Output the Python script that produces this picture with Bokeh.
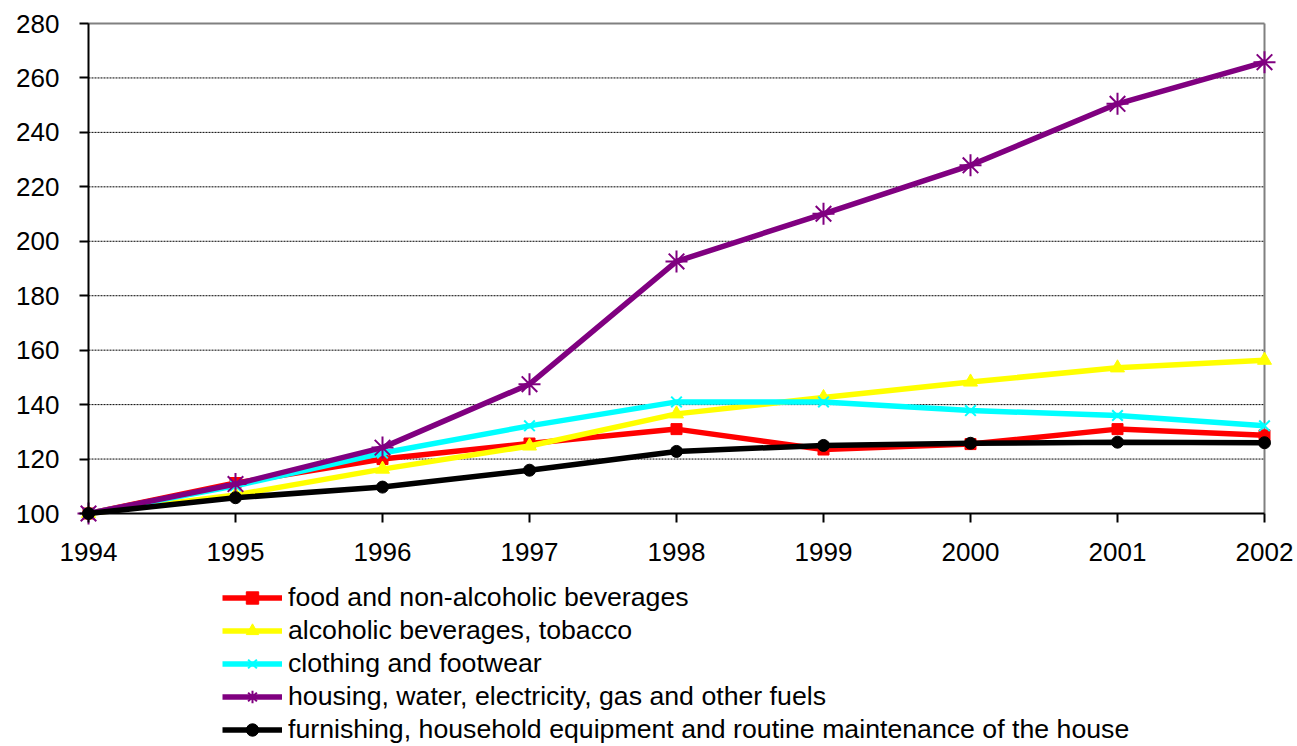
from bokeh.plotting import figure
from bokeh.models import Range1d, FixedTicker, Legend, LegendItem
from bokeh.embed import file_html
from bokeh.resources import INLINE

years = [1994, 1995, 1996, 1997, 1998, 1999, 2000, 2001, 2002]
food = [100, 111.2, 120.0, 125.7, 131.0, 123.5, 125.5, 131.0, 128.7]
alcohol = [100, 106.8, 116.3, 124.8, 136.6, 142.6, 148.3, 153.5, 156.3]
clothing = [100, 110.2, 122.2, 132.2, 141.0, 141.0, 137.8, 136.0, 132.2]
housing = [100, 110.8, 124.2, 147.5, 192.6, 210.1, 227.9, 250.5, 265.8]
furnishing = [100, 105.8, 109.7, 115.9, 122.8, 125.0, 125.8, 126.2, 126.0]
y_ticks = [100, 120, 140, 160, 180, 200, 220, 240, 260, 280]

series = [
    ("food and non-alcoholic beverages", food, "#FF0000", "square", 11),
    ("alcoholic beverages, tobacco", alcohol, "#FFFF00", "triangle", 14),
    ("clothing and footwear", clothing, "#00FFFF", "x", 15),
    ("housing, water, electricity, gas and other fuels", housing, "#800080", "asterisk", 22),
    ("furnishing, household equipment and routine maintenance of the house", furnishing, "#000000", "circle", 12),
]

FONT = "Liberation Sans"

# Canvas layout (pixels): plot area spans x 88..1264, y 23..513.
W, H = 1296, 746
LEFT, RIGHT, TOP, BOTTOM = 88, 1264, 23, 513
x_lo, x_hi = years[0], years[-1]
y_lo, y_hi = y_ticks[0], y_ticks[-1]
px_x = (RIGHT - LEFT) / (x_hi - x_lo)
px_y = (BOTTOM - TOP) / (y_hi - y_lo)
x_start = x_lo - LEFT / px_x
x_end = x_hi + (W - RIGHT) / px_x
y_end = y_hi + TOP / px_y
y_start = y_lo - (H - BOTTOM) / px_y

p = figure(frame_width=W, frame_height=H, output_backend="svg", toolbar_location=None,
           x_range=Range1d(x_start, x_end), y_range=Range1d(y_start, y_end),
           min_border=0)
p.outline_line_color = None
p.xgrid.grid_line_color = None
p.ygrid.grid_line_color = None

# dashed horizontal gridlines limited to the plot area
p.multi_line(xs=[[x_lo, x_hi] for _ in y_ticks], ys=[[t, t] for t in y_ticks],
             line_color="#000000", line_dash="2 1", line_width=1)

for ax in (p.xaxis[0], p.yaxis[0]):
    ax.axis_line_color = "#000000"
    ax.axis_line_width = 2
    ax.major_tick_line_color = "#000000"
    ax.major_tick_line_width = 2
    ax.major_tick_in = 0
    ax.major_tick_out = 9
    ax.minor_tick_line_color = None
    ax.major_label_text_font = FONT
    ax.major_label_text_font_size = "26px"
    ax.major_label_text_color = "#000000"

p.xaxis.ticker = FixedTicker(ticks=years)
p.yaxis.ticker = FixedTicker(ticks=y_ticks)
p.xaxis.fixed_location = y_lo
p.yaxis.fixed_location = x_lo
p.xaxis.bounds = (x_lo, x_hi)
p.yaxis.bounds = (y_lo, y_hi)
p.xaxis.major_label_standoff = 20
p.yaxis.major_label_standoff = 20

# gray plot-area border (top and right)
p.line([x_lo, x_hi], [y_hi, y_hi], line_color="#808080", line_width=2)
p.line([x_hi, x_hi], [y_lo, y_hi], line_color="#808080", line_width=2)

items = []
for name, vals, color, marker, size in series:
    r1 = p.line(years, vals, line_color=color, line_width=5.5)
    if marker in ("x", "asterisk"):
        r2 = p.scatter(years, vals, marker=marker, size=size, line_color=color, line_width=2)
    else:
        r2 = p.scatter(years, vals, marker=marker, size=size, fill_color=color, line_color=color, line_width=1)
    items.append(LegendItem(label=name, renderers=[r1, r2]))

legend = Legend(items=items, location=(222, 1), orientation="vertical")
legend.label_text_font = FONT
legend.label_text_font_size = "26.7px"
legend.label_text_color = "#000000"
legend.glyph_width = 60
legend.glyph_height = 31
legend.label_height = 31
legend.spacing = 2
legend.label_standoff = 6
legend.padding = 0
legend.margin = 0
legend.border_line_color = None
legend.background_fill_alpha = 0
p.add_layout(legend, "center")

open("out.html", "w").write(file_html(p, INLINE))
